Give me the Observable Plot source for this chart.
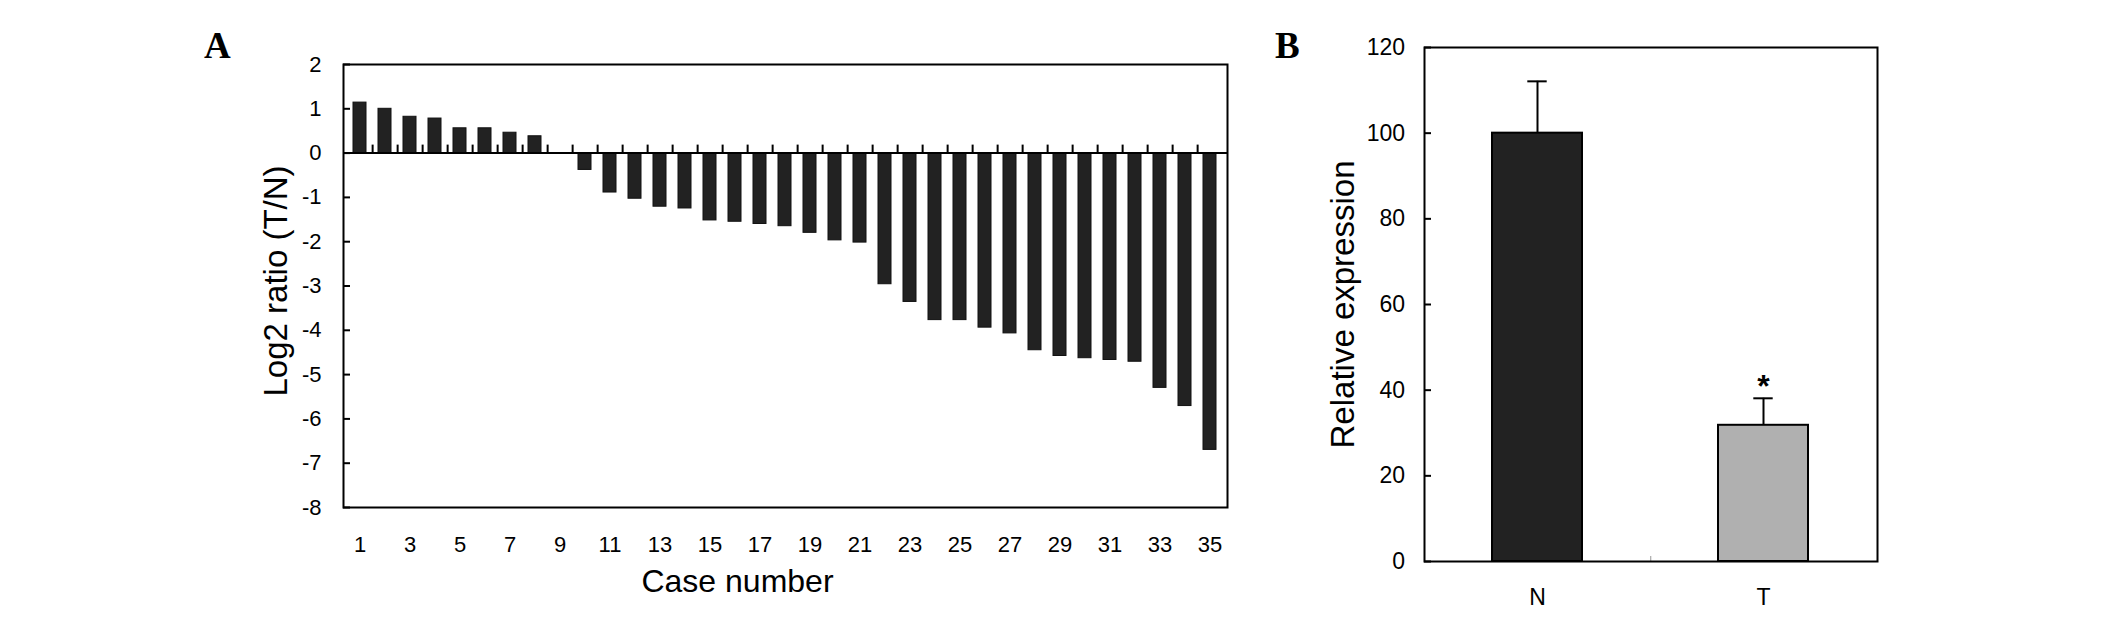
<!DOCTYPE html>
<html><head><meta charset="utf-8">
<script src="https://cdn.jsdelivr.net/npm/d3@7"></script>
<script src="https://cdn.jsdelivr.net/npm/@observablehq/plot@0.6"></script>
<style>
html,body{margin:0;padding:0;background:#fff;}
#wrap{position:relative;width:2126px;height:617px;overflow:hidden;background:#fff;font-family:"Liberation Sans",Arial,sans-serif;}
.panel{position:absolute;top:0;}
.plabel{position:absolute;font-family:"Liberation Serif","Times New Roman",serif;font-weight:bold;font-size:37px;line-height:1;color:#000;}
</style></head><body>
<div id="wrap">
  <div class="plabel" style="left:204px;top:27px">A</div>
  <div class="plabel" style="left:1275px;top:27px">B</div>
  <div class="panel" id="chartA" style="left:0px"></div>
  <div class="panel" id="chartB" style="left:1240px"></div>
</div>
<script>
// ---- Panel A data ----
const cases = [1,2,3,4,5,6,7,8,9,10,11,12,13,14,15,16,17,18,19,20,21,22,23,24,25,26,27,28,29,30,31,32,33,34,35];
const log2Ratio = [1.14, 1.00, 0.82, 0.78, 0.56, 0.56, 0.46, 0.38, 0, -0.38,
  -0.89, -1.03, -1.21, -1.25, -1.52, -1.55, -1.60, -1.65, -1.80, -1.97,
  -2.02, -2.96, -3.36, -3.77, -3.77, -3.94, -4.07, -4.45, -4.58, -4.63,
  -4.67, -4.71, -5.30, -5.71, -6.70];
const caseTickLabels = [1,3,5,7,9,11,13,15,17,19,21,23,25,27,29,31,33,35];
const log2Ticks = [2,1,0,-1,-2,-3,-4,-5,-6,-7,-8];
const titleA_y = "Log2 ratio (T/N)";
const titleA_x = "Case number";

// ---- Panel B data ----
const groups = ["N","T"];
const relExpression = [100, 31.8];
const relError = [12.1, 6.3];
const significance = ["", "*"];
const exprTicks = [0,20,40,60,80,100,120];
const titleB_y = "Relative expression";

const FONT = '"Liberation Sans", Arial, sans-serif';

// ---- Chart A ----
const dataA = cases.map((c,i)=>({case:c, value:log2Ratio[i]}));
const WA=1240, HA=617, mlA=343, mrA=13, mtA=64, mbA=110;
const stepA = (WA-mlA-mrA)/cases.length;
const chartA = Plot.plot({
  width:WA, height:HA, marginLeft:mlA, marginRight:mrA, marginTop:mtA, marginBottom:mbA,
  style:{fontFamily:FONT, fontSize:"22px", color:"#000", background:"transparent", overflow:"visible"},
  x:{type:"band", domain:cases, paddingInner:0.47, paddingOuter:0.235, axis:null},
  y:{domain:[-8,2], axis:null},
  marks:[
    Plot.rectY(dataA, {x:"case", y:"value", fill:"#222222", stroke:"#111", strokeWidth:1}),
    Plot.ruleY([0], {stroke:"#000", strokeWidth:2}),
    Plot.ruleX(cases.slice(0,-1), {x:d=>d, y1:0, y2:0, insetTop:-8, dx:stepA/2, stroke:"#000", strokeWidth:2}),
    Plot.frame({stroke:"#000", strokeWidth:2}),
    Plot.axisY(log2Ticks, {tickSize:-7, tickPadding:29, fontSize:22, tickFormat:d=>String(d), label:null, strokeWidth:2}),
    Plot.axisX(caseTickLabels, {tickSize:0, tickPadding:29, fontSize:22, tickFormat:d=>String(d), label:null}),
    Plot.text([titleA_y], {text:d=>d, frameAnchor:"left", dx:-67, dy:-5, rotate:-90, fontSize:33, textAnchor:"middle", lineAnchor:"middle"}),
    Plot.text([titleA_x], {text:d=>d, frameAnchor:"bottom", dx:-48, dy:74, fontSize:32, textAnchor:"middle", lineAnchor:"middle"})
  ]
});
document.getElementById("chartA").appendChild(chartA);

// ---- Chart B ----
const dataB = groups.map((g,i)=>({group:g, value:relExpression[i], err:relError[i], sig:significance[i]}));
const WB=886, HB=617, mlB=184, mrB=249, mtB=47, mbB=56;
const pInB = 0.6, pOutB = 0.3;
const stepB = (WB-mlB-mrB)/groups.length;
const bwB = stepB*(1-pInB);
const chartB = Plot.plot({
  width:WB, height:HB, marginLeft:mlB, marginRight:mrB, marginTop:mtB, marginBottom:mbB,
  style:{fontFamily:FONT, fontSize:"23px", color:"#000", background:"transparent", overflow:"visible"},
  x:{type:"band", domain:groups, paddingInner:pInB, paddingOuter:pOutB, axis:null},
  y:{domain:[0,120], axis:null},
  color:{domain:groups, range:["#222222","#b0b0b0"]},
  marks:[
    Plot.ruleX(dataB, {x:"group", y1:d=>d.value, y2:d=>d.value+d.err, stroke:"#000", strokeWidth:2}),
    Plot.tickY(dataB, {x:"group", y:d=>d.value+d.err, stroke:"#000", strokeWidth:2, insetLeft:bwB/2-10, insetRight:bwB/2-10}),
    Plot.barY(dataB, {x:"group", y:"value", fill:"group", stroke:"#000", strokeWidth:2}),
    Plot.ruleX([groups[0]], {x:d=>d, y1:0, y2:0, insetTop:-5, dx:stepB/2, stroke:"#999", strokeWidth:1}),
    Plot.text(dataB, {x:"group", y:d=>d.value+d.err, text:"sig", dy:-12, fontSize:32, fontWeight:"bold", lineAnchor:"middle"}),
    Plot.frame({stroke:"#000", strokeWidth:2}),
    Plot.axisY(exprTicks, {tickSize:-7, tickPadding:26.5, fontSize:23, tickFormat:d=>String(d), label:null, strokeWidth:2}),
    Plot.axisX(groups, {tickSize:0, tickPadding:27.5, fontSize:23, label:null}),
    Plot.text([titleB_y], {text:d=>d, frameAnchor:"left", dx:-81, rotate:-90, fontSize:33, textAnchor:"middle", lineAnchor:"middle"})
  ]
});
document.getElementById("chartB").appendChild(chartB);
</script>
</body></html>
